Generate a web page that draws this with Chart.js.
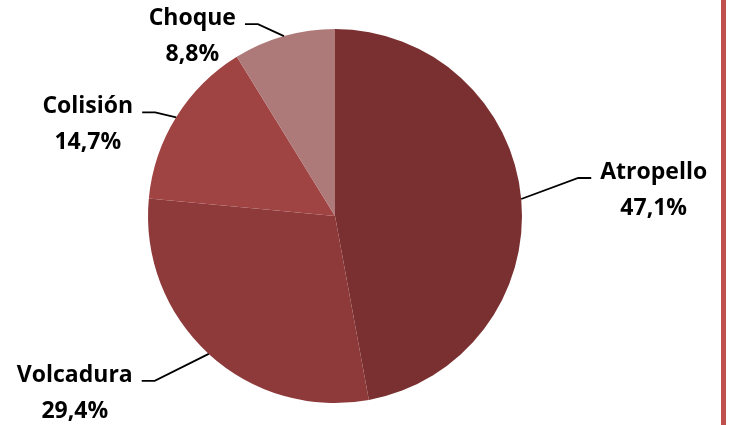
<!DOCTYPE html>
<html lang="es">
<head>
  <meta charset="UTF-8">
  <title>Tipo de accidente</title>
  <script src="https://cdn.jsdelivr.net/npm/chart.js"></script>
  <style>
    body {
      margin: 0;
      padding: 0;
      background: #fff;
    }
    #chart {
      display: block;
    }
  </style>
</head>
<body>
  <canvas id="chart" width="730" height="425"></canvas>

  <script>
    // Datos del gráfico
    const categories = ['Atropello', 'Volcadura', 'Colisión', 'Choque'];
    const shares = [47.1, 29.4, 14.7, 8.8];

    // Colores de cada porción
    const sliceColors = ['#7a3030', '#8e3a3a', '#a04443', '#ae7a79'];
    // Desplazamiento del codo de cada línea guía respecto al borde del sector
    const elbowOffsets = [[57, -21], [-54, 27], [-21, -5], [-26, -12]];

    const labelFont = 'bold 23px "Open Sans", sans-serif';

    // Etiquetas con líneas guía, estilo Excel
    const leaderLabels = {
      id: 'leaderLabels',
      afterDatasetsDraw(chart) {
        const ctx = chart.ctx;
        const arcs = chart.getDatasetMeta(0).data;
        ctx.save();
        ctx.font = labelFont;
        ctx.fillStyle = '#000';
        ctx.strokeStyle = '#000';
        ctx.lineWidth = 1.8;
        arcs.forEach((arc, i) => {
          const p = arc.getProps(['x', 'y', 'startAngle', 'endAngle', 'outerRadius'], true);
          const mid = (p.startAngle + p.endAngle) / 2;
          const ax = p.x + Math.cos(mid) * p.outerRadius;
          const ay = p.y + Math.sin(mid) * p.outerRadius;
          const ex = ax + elbowOffsets[i][0];
          const ey = ay + elbowOffsets[i][1];
          const side = elbowOffsets[i][0] > 0 ? 1 : -1;
          const endX = ex + side * 13;

          ctx.beginPath();
          ctx.moveTo(ax, ay);
          ctx.lineTo(ex, ey);
          ctx.lineTo(endX, ey);
          ctx.stroke();

          const pct = shares[i].toFixed(1).replace('.', ',') + '%';
          const w = Math.max(ctx.measureText(categories[i]).width, ctx.measureText(pct).width);
          const cx = endX + side * (9 + w / 2);
          ctx.textAlign = 'center';
          ctx.textBaseline = 'alphabetic';
          ctx.fillText(categories[i], cx, ey + 1);
          ctx.fillText(pct, cx, ey + 37);
        });
        // franja roja a la derecha
        ctx.fillStyle = '#c0504d';
        ctx.fillRect(chart.width - 9, 0, 5, chart.height);
        ctx.restore();
      }
    };

    new Chart(document.getElementById('chart'), {
      type: 'pie',
      data: {
        labels: categories,
        datasets: [{
          data: shares,
          backgroundColor: sliceColors,
          borderWidth: 0
        }]
      },
      options: {
        responsive: false,
        animation: false,
        layout: { padding: { left: 148, right: 208, top: 29, bottom: 22 } },
        plugins: {
          legend: { display: false },
          tooltip: { enabled: false }
        }
      },
      plugins: [leaderLabels]
    });
  </script>
</body>
</html>
